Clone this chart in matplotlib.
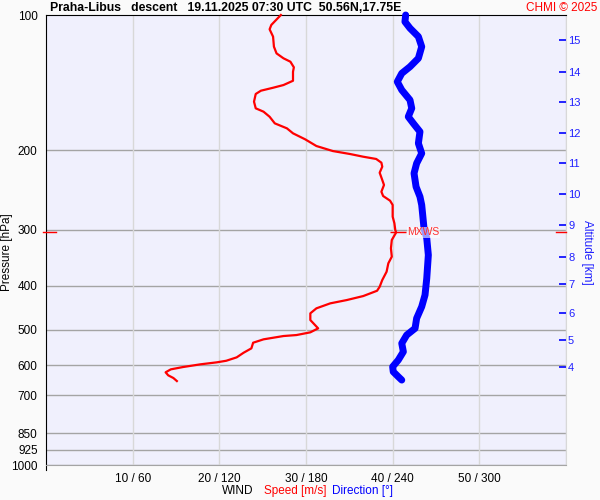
import numpy as np
import matplotlib
matplotlib.use('Agg')
import matplotlib.pyplot as plt
from matplotlib.ticker import NullFormatter, NullLocator

plt.rcParams['font.family'] = ['Liberation Sans', 'DejaVu Sans']

# wind speed profile [m/s] vs pressure [hPa]
speed = [27.1, 26.0, 25.8, 26.2, 26.3, 26.6, 27.4, 28.2, 28.6, 28.5, 28.5, 27.4, 26.2, 24.8,
         24.2, 24.0, 24.2, 25.1, 25.8, 26.4, 27.8, 28.5, 29.9, 31.2, 33.1, 35.1, 36.6, 38.1,
         38.7, 38.8, 38.5, 38.8, 39.0, 38.7, 38.9, 39.7, 40.0, 40.0, 40.2, 40.3, 40.4, 39.9,
         39.8, 39.9, 39.5, 39.3, 38.8, 38.5, 38.2, 36.6, 34.7, 32.8, 31.2, 30.5, 30.5, 31.4,
         30.5, 28.9, 27.4, 25.1, 23.9, 23.7, 22.8, 22.0, 20.8, 19.7, 17.8, 15.8, 14.4, 13.8,
         14.1, 14.7, 15.1]
speed_p = [100, 105.2, 107.6, 111.7, 117.6, 121.7, 124.8, 127.0, 130.7, 133.7, 140.0, 143.1,
           145.1, 147.3, 149.8, 155.8, 161.2, 164.0, 168.3, 174.1, 178.6, 183.2, 188.9, 195.5,
           200.6, 203.7, 206.5, 208.9, 212.9, 217.3, 224.1, 232.6, 238.6, 247.0, 252.5, 258.6,
           264.3, 280.6, 290.3, 300.4, 304.3, 316.2, 330.0, 344.4, 356.3, 371.9, 388.1, 401.7,
           410.0, 421.3, 430.0, 437.3, 448.6, 460.2, 476.3, 497.0, 507.2, 514.3, 516.9, 525.7,
           534.9, 550.5, 563.0, 576.5, 586.6, 591.4, 597.5, 605.8, 613.0, 622.3, 632.0, 640.8,
           650.8]

# wind direction profile [deg] vs pressure [hPa]
direction = [249.0, 248.5, 252.0, 257.8, 260.1, 257.8, 252.0, 246.3, 243.2, 246.3, 252.0,
             253.2, 250.8, 254.3, 258.9, 257.8, 260.1, 256.6, 254.8, 256.2, 258.9, 260.1,
             260.8, 261.7, 263.6, 264.7, 263.6, 262.4, 260.1, 256.6, 255.5, 249.7, 246.3,
             247.4, 243.9, 240.0, 240.4, 243.9, 246.3]
direction_p = [100, 103.5, 107.0, 111.7, 117.6, 124.8, 130.3, 134.8, 140.7, 146.8, 154.5,
               161.2, 168.3, 174.1, 181.7, 192.8, 203.0, 213.6, 224.8, 240.8, 253.4, 264.3,
               278.3, 297.9, 313.5, 341.5, 384.7, 419.0, 444.9, 472.1, 497.0, 514.3, 536.6,
               560.1, 584.4, 604.8, 620.5, 636.6, 647.5]

p_ticks = [100, 200, 300, 400, 500, 600, 700, 850, 925, 1000]
x_ticks = [10, 20, 30, 40, 50]
x_labels = ['10 / 60', '20 / 120', '30 / 180', '40 / 240', '50 / 300']
alt_km = [4, 5, 6, 7, 8, 9, 10, 11, 12, 13, 14, 15]
alt_p = [604.6, 527.6, 460.2, 396.7, 344.5, 292.4, 249.9, 213.6, 182.6, 155.8, 133.7, 113.8]

fig = plt.figure(figsize=(6, 5), dpi=100, facecolor='#fafafa')
ax = fig.add_axes([46/600, 35/500, 520/600, 450/500])
ax.set_facecolor('#f0f0fd')
ax.set_yscale('log')
ax.set_ylim(1000, 100)
ax.set_xlim(0, 60)

for p in p_ticks[1:]:
    ax.axhline(p, color='#a4a4a4', lw=1.0, zorder=1)
for x in x_ticks + [60]:
    ax.axvline(x, color='#d8d8d8', lw=1.0, zorder=1)

ax.yaxis.set_minor_locator(NullLocator())
ax.yaxis.set_minor_formatter(NullFormatter())
ax.set_yticks(p_ticks)
ax.set_yticklabels([str(p) for p in p_ticks])
ax.tick_params(axis='y', length=0, pad=6, labelsize=8.5)
ax.set_xticks(x_ticks)
ax.set_xticklabels(x_labels)
ax.tick_params(axis='x', length=0, pad=6, labelsize=8.5)

ax.spines['left'].set_color('black')
ax.spines['left'].set_bounds(1000 * 1.025, 100)
ax.spines['top'].set_color('black')
ax.spines['right'].set_color('#d8d8d8')
ax.spines['bottom'].set_color('#a4a4a4')

ax.plot(speed, speed_p, color='#ff0000', lw=1.6, zorder=3, clip_on=False)

# direction on its own 0-360 scale sharing the pressure axis
axd = ax.twiny()
axd.set_xlim(0, 360)
axd.set_xticks([])
for s in axd.spines.values():
    s.set_visible(False)
axd.plot(direction, direction_p, color='#0000ff', lw=5, zorder=4, clip_on=False,
         solid_capstyle='round')

# maximum wind speed marker
i = int(np.argmax(speed))
mx_s, mx_p = speed[i], speed_p[i]
axd.plot([(mx_s + 0.2) * 6], [mx_p], marker='_', markersize=12, mew=1, color='#ff0000', zorder=5)
axd.text((mx_s + 1.3) * 6, mx_p, 'MXWS', color='#ff3030', fontsize=7.5, va='center', ha='left',
         zorder=6, bbox=dict(facecolor='white', edgecolor='none', alpha=0.6, pad=0.5))
ytr = ax.get_yaxis_transform()
ax.plot([-0.006, 0.019], [mx_p, mx_p], color='#ff0000', lw=1, transform=ytr, clip_on=False, zorder=5)
ax.plot([0.98, 1.0], [mx_p, mx_p], color='#ff0000', lw=1, transform=ytr, clip_on=False, zorder=5)

ax.set_ylabel('Pressure [hPa]', fontsize=8.5)
ax.yaxis.set_label_coords(-0.0635, 0.473)

ax2 = ax.twinx()
ax2.set_yscale('log')
ax2.set_ylim(1000, 100)
ax2.yaxis.set_minor_locator(NullLocator())
ax2.yaxis.set_minor_formatter(NullFormatter())
ax2.set_yticks(alt_p)
ax2.set_yticklabels([str(a) for a in alt_km])
ax2.tick_params(axis='y', direction='in', length=5, width=1.2, color='#0000ff',
                labelcolor='#2020ff', labelsize=8, pad=1.5)
for s in ax2.spines.values():
    s.set_visible(False)
ax2.set_ylabel('Altitude [km]', color='#2020ff', fontsize=8.5, rotation=-90)
ax2.yaxis.set_label_coords(1.052, 0.473)

fig.text(50/600, 1 - 8/500, 'Praha-Libus   descent   19.11.2025 07:30 UTC  50.56N,17.75E',
         fontsize=8.8, fontweight='bold', va='center', ha='left')
fig.text(597/600, 1 - 8/500, 'CHMI © 2025', color='#ff0000', fontsize=8.5, va='center', ha='right')

fig.text(253/600, 1 - 491/500, 'WIND', fontsize=8.5, va='center', ha='right')
fig.text(264/600, 1 - 491/500, 'Speed [m/s]', color='#ff0000', fontsize=8.5, va='center', ha='left')
fig.text(332/600, 1 - 491/500, 'Direction [°]', color='#0000ff', fontsize=8.5, va='center', ha='left')

fig.savefig('out.png', dpi=100, facecolor=fig.get_facecolor())
